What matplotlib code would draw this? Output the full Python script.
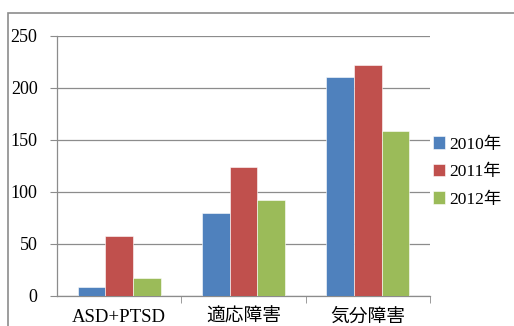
import numpy as np
import matplotlib.pyplot as plt
from matplotlib.patches import Rectangle

plt.rcParams['font.family'] = ['Liberation Serif', 'Noto Sans CJK JP']

categories = ['ASD+PTSD', '適応障害', '気分障害']
years = ['2010年', '2011年', '2012年']
counts_2010 = [9, 80, 211]
counts_2011 = [58, 124, 222]
counts_2012 = [17, 92, 159]
yticks = [0, 50, 100, 150, 200, 250]

colors = ['#4F81BD', '#C0504D', '#9BBB59']
grid_c = '#8c8c8c'

fig = plt.figure(figsize=(5.14, 3.26), dpi=100)
ax = fig.add_axes([57/514, 1-296/326, 373/514, 260/326])

x = np.arange(len(categories))
w = 0.222
series = [counts_2010, counts_2011, counts_2012]
for i, (vals, lab) in enumerate(zip(series, years)):
    ax.bar(x + (i-1)*w, vals, width=w, color=colors[i], label=lab,
           edgecolor='white', linewidth=0.4, zorder=3)

ax.set_xlim(-0.5, 2.5)
ax.set_ylim(0, 250)
ax.set_yticks(yticks)
ax.set_xticks(x)
ax.set_xticklabels(categories, fontsize=13.5)
ax.tick_params(axis='x', length=0, pad=9)
ax.set_xticks([0.5, 1.5, 2.5], minor=True)
ax.tick_params(axis='x', which='minor', length=5, color=grid_c, direction='out')
ax.tick_params(axis='y', labelsize=13, length=5, color=grid_c, pad=9)
ax.yaxis.grid(True, color=grid_c, linewidth=0.9, zorder=0)
ax.set_axisbelow(True)
for s in ['top', 'right']:
    ax.spines[s].set_visible(False)
for s in ['left', 'bottom']:
    ax.spines[s].set_color(grid_c)
    ax.spines[s].set_linewidth(0.9)

# outer chart frame
fig.patches.append(Rectangle((8/514, -1), 2, 1 + 1 - 13/326, transform=fig.transFigure,
                             fill=False, edgecolor='#8c8c8c', linewidth=1.2))

fig.legend(loc='center left', bbox_to_anchor=(426/514, 1-172/326), frameon=False,
           fontsize=12.5, handlelength=0.7, handleheight=0.7, handletextpad=0.25,
           labelspacing=0.65, borderaxespad=0)

fig.savefig('out.png', dpi=100)
